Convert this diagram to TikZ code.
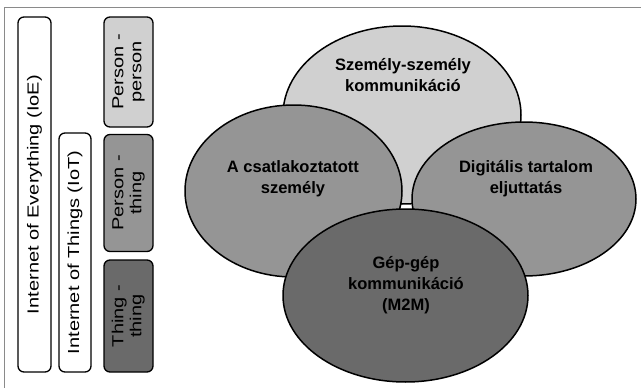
\documentclass[tikz,border=0pt]{standalone}
\usepackage{fontspec}
\setmainfont{Liberation Sans}
\usetikzlibrary{shapes.geometric}
\definecolor{lightg}{HTML}{D0D0D0}
\definecolor{midg}{HTML}{959595}
\definecolor{darkg}{HTML}{6A6A6A}
\definecolor{framegray}{HTML}{8A8A8A}
\newcommand{\sx}[1]{\scalebox{1.25}[1]{#1}}
\newcommand{\twol}[2]{\scalebox{1.25}[1]{\begin{tabular}{@{}c@{}}#1\\[-1pt]#2\end{tabular}}}
\begin{document}
\begin{tikzpicture}[x=1pt,y=-1pt,
  box/.style={draw=black, line width=1.3pt, rounded corners=6pt, rotate=90, inner sep=0pt, outer sep=0pt,
    font=\fontsize{16}{19}\selectfont},
  ell/.style={ellipse, draw=black, line width=1.5pt, inner sep=0pt, outer sep=0pt},
  etext/.style={align=center, font=\fontsize{16.5}{21}\selectfont\bfseries, inner sep=0pt}]
\useasboundingbox (0,0) rectangle (641,388);
\fill[white] (0,0) rectangle (641,388);
\draw[framegray, line width=1.2pt] (4.5,388) -- (4.5,7.5) -- (641,7.5);
% left panel
\node[box, fill=white, minimum width=355pt, minimum height=33pt] (ioe) at (34.5,194.5) {\sx{Internet of Everything (IoE)}};
\node[box, fill=white, minimum width=239pt, minimum height=32pt] (iot) at (75,252.5) {\sx{Internet of Things (IoT)}};
\node[box, fill=lightg, minimum width=110pt, minimum height=49pt] (pp) at (128.5,72) {\twol{Person -}{person}};
\node[box, fill=midg, minimum width=117pt, minimum height=49pt] (pt) at (128.5,193) {\twol{Person -}{thing}};
\node[box, fill=darkg, minimum width=112pt, minimum height=49pt] (tt) at (128.5,316) {\twol{Thing -}{thing}};
% ellipses
\node[ell, fill=lightg, minimum width=238pt, minimum height=178pt] (etop) at (402,115) {};
\node[ell, fill=midg, minimum width=217pt, minimum height=172pt] (eleft) at (293.5,191) {};
\node[ell, fill=midg, minimum width=224pt, minimum height=154pt] (eright) at (524,199) {};
\node[ell, fill=darkg, minimum width=245pt, minimum height=173pt] (ebot) at (405.5,295.5) {};
% texts
\node[etext] (ttop) at (403,75) {Személy-személy\\kommunikáció};
\node[etext] (tleft) at (293,179) {A csatlakoztatott\\személy};
\node[etext] (tright) at (526,179) {Digitális tartalom\\eljuttatás};
\node[etext] (tbot) at (406,285) {Gép-gép\\kommunikáció\\(M2M)};
\end{tikzpicture}
\end{document}
